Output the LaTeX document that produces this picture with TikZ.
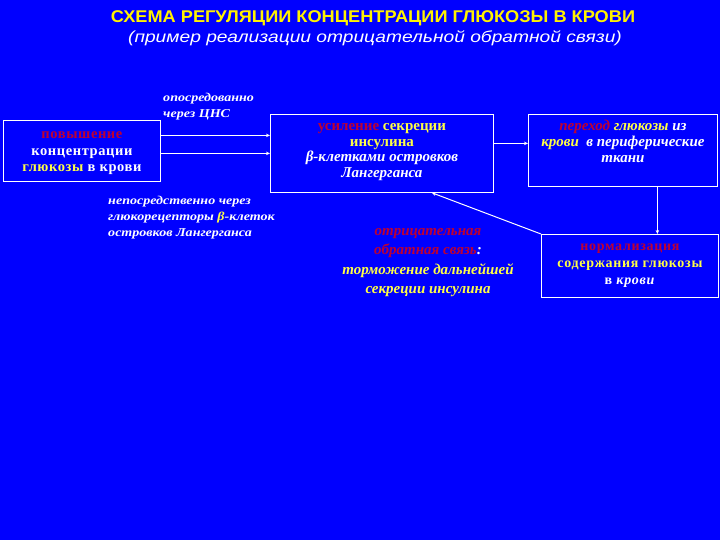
\documentclass[tikz,border=0pt]{standalone}
\usepackage{fontspec}
\setmainfont{Liberation Serif}
\setsansfont{Liberation Sans}
\usetikzlibrary{positioning,arrows.meta}
\definecolor{slideblue}{RGB}{0,0,255}
\definecolor{hotred}{RGB}{190,0,50}
\definecolor{paleyellow}{RGB}{255,255,70}
\newcommand{\rd}[1]{\textcolor{hotred}{#1}}
\newcommand{\yl}[1]{\textcolor{paleyellow}{#1}}

\begin{document}
\begin{tikzpicture}[x=1pt,y=-1pt,
    box/.style={draw=white,line width=0.8pt,anchor=north west,align=center,inner sep=0pt,text=white},
    note/.style={text=white,font=\fontsize{12}{16}\selectfont\bfseries\itshape,align=left,inner sep=0pt,xscale=1.17},
    arr/.style={white,line width=1pt,-{Stealth[length=4pt,width=3.5pt]}}]

\fill[slideblue] (0,0) rectangle (720,540);
\useasboundingbox (0,0) rectangle (720,540);

% title
\node[text=yellow,font=\sffamily\bfseries\fontsize{17}{18}\selectfont,xscale=1.07] (title) at (373,18)
  {СХЕМА РЕГУЛЯЦИИ КОНЦЕНТРАЦИИ ГЛЮКОЗЫ В КРОВИ};
\node[text=white,font=\sffamily\itshape\fontsize{16}{18}\selectfont,xscale=1.2] (subtitle) at (375,38)
  {(пример реализации отрицательной обратной связи)};

% boxes
\node[box,minimum width=157,minimum height=61,font=\fontsize{14.5}{16.5}\selectfont\bfseries\addfontfeature{LetterSpace=4}] (rise) at (3,120)
  {\rule{0pt}{12pt}\rd{повышение}\\концентрации\\\yl{глюкозы} в крови};
\node[box,minimum width=223,minimum height=78,text depth=6pt,font=\fontsize{15}{15.5}\selectfont\bfseries] (secr) at (270,114)
  {\rd{усиление} \yl{секреции}\\\yl{инсулина}\\\itshape β-клетками островков\\\itshape Лангерганса};
\node[box,minimum width=189,minimum height=72,text depth=19pt,font=\fontsize{15}{16}\selectfont\bfseries\itshape] (trans) at (528,114)
  {\rd{переход} \yl{глюкозы} из\\\yl{крови}\ \ в периферические\\ткани};
\node[box,minimum width=177,minimum height=63,font=\fontsize{14}{17}\selectfont\bfseries\addfontfeature{LetterSpace=5}] (norm) at (541,234)
  {\rd{нормализация}\\\yl{содержания глюкозы}\\в \textit{крови}};

% labels
\node[note,anchor=north west] (viacns) at (163,93) {опосредованно\\через ЦНС};
\node[note,anchor=north west] (direct) at (108,196) {непосредственно через\\глюкорецепторы \yl{β}-клеток\\островков Лангерганса};
\node[font=\fontsize{15}{19.3}\selectfont\bfseries\itshape,align=center,text=paleyellow] (feedback) at (428,262.5)
  {\rd{отрицательная}\\\rd{обратная связь}\textcolor{white}{:}\\торможение дальнейшей\\секреции инсулина};

% connectors
\coordinate (cns) at ([yshift=15.5pt]rise.east);
\coordinate (gluco) at ([yshift=-2.5pt]rise.east);
\draw[arr] (cns) -- (cns -| secr.west);
\draw[arr] (gluco) -- (gluco -| secr.west);
\coordinate (out) at ([yshift=10pt]secr.east);
\draw[arr] (out) -- (out -| trans.west);
\coordinate (drop) at ([xshift=34.5pt]trans.south);
\draw[arr] (drop) -- (drop |- norm.north);
\draw[arr] (norm.north west) -- ([xshift=50pt]secr.south);

\end{tikzpicture}
\end{document}
